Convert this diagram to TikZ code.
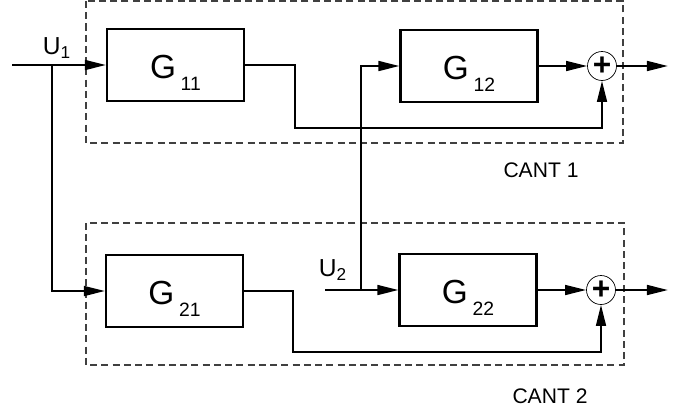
\documentclass[tikz,border=0pt]{standalone}
\usepackage{fontspec}
\setmainfont{Liberation Sans}
\usetikzlibrary{arrows.meta}
\tikzstyle{block}=[rectangle, draw, line width=1.2pt, minimum width=2.74cm, minimum height=1.44cm, inner sep=0pt, text height=15.5pt, text depth=0pt, font=\fontsize{19}{20}\selectfont]
\tikzstyle{sum}=[circle, draw, thin, minimum size=0.58cm, inner sep=0pt, font=\fontsize{18}{18}\selectfont\bfseries]
\tikzstyle{frame}=[draw=black!75, line width=0.6pt, dash pattern=on 4pt off 2.4pt]
\tikzstyle{wire}=[draw=black, line width=1.2pt]
\tikzstyle{arrow}=[wire, -{Triangle[length=12pt, width=5.6pt]}]
\tikzstyle{lbl}=[inner sep=0pt, font=\fontsize{12}{14}\selectfont]
\tikzstyle{inlbl}=[inner sep=0pt, font=\fontsize{14}{16}\selectfont]
\newcommand{\gsub}[1]{G\hspace{2.6pt}\raisebox{-6.6pt}{\fontsize{11}{12}\selectfont #1}}

\begin{document}
\begin{tikzpicture}[x=0.02cm, y=-0.02cm]
	\useasboundingbox (0,0) rectangle (685,413);
	\begin{scope}
		% the two channels
		\draw [frame] (86,1) rectangle (623,143);
		\draw [frame] (86,223) rectangle (624,365);

		\node (g11) at (175.5,65) [block] {\gsub{11}};
		\node (g12) at (469,66) [block] {\gsub{12}};
		\node (g21) at (174.5,291) [block] {\gsub{21}};
		\node (g22) at (468,290) [block] {\gsub{22}};

		\node (s1) at (602,66) [sum] {+};
		\node (s2) at (601,290) [sum] {+};

		\node (u1) at (57,48) [inlbl] {U\textsubscript{1}};
		\node (u2) at (333,270) [inlbl] {U\textsubscript{2}};
		\node (cant1) at (541,170) [lbl] {CANT 1};
		\node (cant2) at (550,396) [lbl] {CANT 2};

		\coordinate (u1in) at (12,65);
		\coordinate (j1) at (52,65);
		\coordinate (j1b) at (52,291);
		\coordinate (u2in) at (325,290);
		\coordinate (j2) at (361,290);
		\coordinate (k1) at (295,128);
		\coordinate (k2) at (293,352);
		\coordinate (out1) at (668,66);
		\coordinate (out2) at (668,290);
	\end{scope}
	\begin{scope}
		\path (u1in) edge [arrow] (g11.west);
		\draw [arrow] (j1) -- (j1b) -- (g21.west);
		\path (u2in) edge [wire] (j2);
		\path (j2) edge [arrow] (g22.west);
		\draw [arrow] (j2) |- (g12.west);

		\path (g12.east) edge [arrow] (s1.west);
		\path (g22.east) edge [arrow] (s2.west);
		\draw [arrow] (g11.east) -| (k1) -| (s1.south);
		\draw [arrow] (g21.east) -| (k2) -| (s2.south);

		\path (s1.east) edge [arrow] (out1);
		\path (s2.east) edge [arrow] (out2);
	\end{scope}
\end{tikzpicture}
\end{document}
